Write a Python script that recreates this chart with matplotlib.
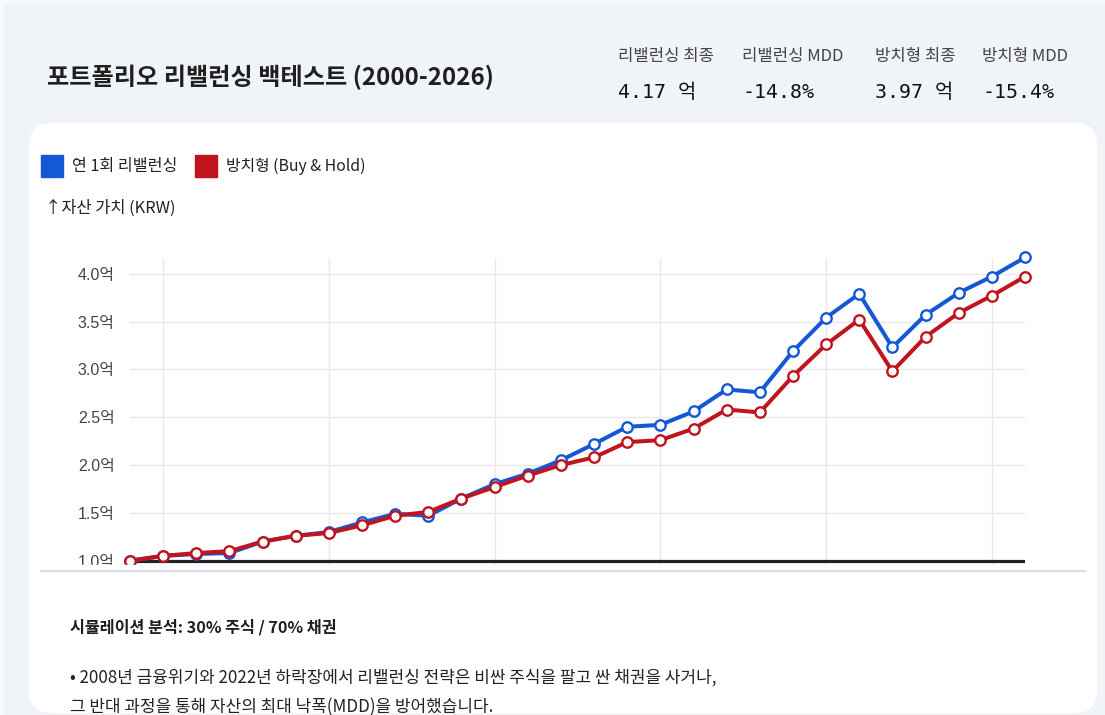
import matplotlib
matplotlib.use("Agg")
import matplotlib.pyplot as plt
from matplotlib.patches import Rectangle, FancyBboxPatch

# --- data ---
years = list(range(2000, 2028))
rebal = [1.00, 1.05, 1.07, 1.08, 1.20, 1.26, 1.30, 1.40, 1.49, 1.47,
         1.65, 1.80, 1.91, 2.05, 2.22, 2.40, 2.42, 2.56, 2.79, 2.76,
         3.19, 3.54, 3.79, 3.23, 3.57, 3.80, 3.97, 4.17]
hold = [1.00, 1.05, 1.08, 1.10, 1.20, 1.26, 1.29, 1.37, 1.47, 1.51,
        1.65, 1.77, 1.89, 2.00, 2.08, 2.24, 2.26, 2.38, 2.58, 2.55,
        2.93, 3.26, 3.52, 2.98, 3.34, 3.59, 3.77, 3.97]
grid_years = [2001, 2006, 2011, 2016, 2021, 2026]
y_ticks = [1.0, 1.5, 2.0, 2.5, 3.0, 3.5, 4.0]

series_names = ["연 1회 리밸런싱", "방치형 (Buy & Hold)"]
stat_labels = ["리밸런싱 최종", "리밸런싱 MDD", "방치형 최종", "방치형 MDD"]
stat_values = ["4.17 억", "-14.8%", "3.97 억", "-15.4%"]

BLUE = "#1558d6"
RED = "#c0141e"
KR = ["Noto Sans CJK KR", "DejaVu Sans"]
W, H = 1105, 715

plt.rcParams["font.family"] = KR

fig = plt.figure(figsize=(W / 100, H / 100), dpi=100)

# background / card, pixel coordinates
bg = fig.add_axes([0, 0, 1, 1], zorder=0)
bg.set_xlim(0, W)
bg.set_ylim(H, 0)
bg.axis("off")
bg.add_patch(Rectangle((0, 0), W, H, color="#f8f9fb"))
bg.add_patch(Rectangle((4, 3), W - 4, H - 3, color="#f0f3f8"))
bg.add_patch(FancyBboxPatch((29, 123), 1068, 590,
                            boxstyle="round,pad=0,rounding_size=22",
                            fc="white", ec="none"))

bg.text(47, 77, "포트폴리오 리밸런싱 백테스트 (2000-2026)", fontsize=17.4,
        fontweight="bold", color="#1f1f1f", va="center")

stat_x = [618, 742, 875, 982]
for sx, lab, val in zip(stat_x, stat_labels, stat_values):
    bg.text(sx, 57, lab, fontsize=12, color="#444444", va="center")
    bg.text(sx, 92, val, fontsize=14.3, color="#111111", va="center",
            family=["DejaVu Sans Mono", "Noto Sans CJK KR"])

# legend
bg.add_patch(Rectangle((41, 155), 22, 22, color=BLUE))
bg.text(72, 166, series_names[0], fontsize=11.6, color="#222222", va="center")
bg.add_patch(Rectangle((195, 155), 22, 22, color=RED))
bg.text(226, 166, series_names[1], fontsize=11.4, color="#222222", va="center")
bg.text(45, 208, "↑자산 가치 (KRW)", fontsize=11.8, color="#222222", va="center")

# chart
top, bottom, left, right = 258, 565, 130, 1025
ax = fig.add_axes([left / W, 1 - bottom / H, (right - left) / W, (bottom - top) / H],
                  zorder=1)
ax.patch.set_alpha(0)
ppu = (560.7 - 273.7) / 3.0
ax.set_xlim(years[0], years[-1])
ax.set_ylim(1 - (bottom - 560.7) / ppu, 1 + (560.7 - top) / ppu)
for s in ax.spines.values():
    s.set_visible(False)
ax.set_xticks(grid_years)
ax.set_xticklabels([])
ax.set_yticks(y_ticks)
ax.set_yticklabels([f"{v:.1f}억" for v in y_ticks], fontsize=11.5, color="#444444",
                   family=["Liberation Sans", "Noto Sans CJK KR"])
ax.tick_params(length=0, pad=11)
ax.grid(True, color="#e8e8e8", lw=1)
ax.set_axisbelow(True)
ax.axhline(1.0, color="#222222", lw=2.3, zorder=2)

ax.plot(years, rebal, color=BLUE, lw=2.9, marker="o", ms=7.5, mfc="white",
        mec=BLUE, mew=1.7, zorder=3, clip_on=False)
ax.plot(years, hold, color=RED, lw=2.9, marker="o", ms=7.5, mfc="white",
        mec=RED, mew=1.7, zorder=4, clip_on=False)

# lower section covering the clipped chart bottom
ov = fig.add_axes([0, 0, 1, 1], zorder=2)
ov.set_xlim(0, W)
ov.set_ylim(H, 0)
ov.axis("off")
ov.patch.set_alpha(0)
ov.add_patch(Rectangle((40, 565), 1050, 40, color="white"))
ov.plot([41, 1085], [570.7, 570.7], color="#dcdde6", lw=1.5)
ov.text(70, 627, "시뮬레이션 분석: 30% 주식 / 70% 채권", fontsize=11.7,
        fontweight="bold", color="#1f1f1f", va="center")
ov.text(70, 678, "• 2008년 금융위기와 2022년 하락장에서 리밸런싱 전략은 비싼 주식을 팔고 싼 채권을 사거나,",
        fontsize=12.2, color="#222222", va="center")
ov.text(70, 707, "그 반대 과정을 통해 자산의 최대 낙폭(MDD)을 방어했습니다.",
        fontsize=12.2, color="#222222", va="center")

fig.savefig("out.png", dpi=100)
